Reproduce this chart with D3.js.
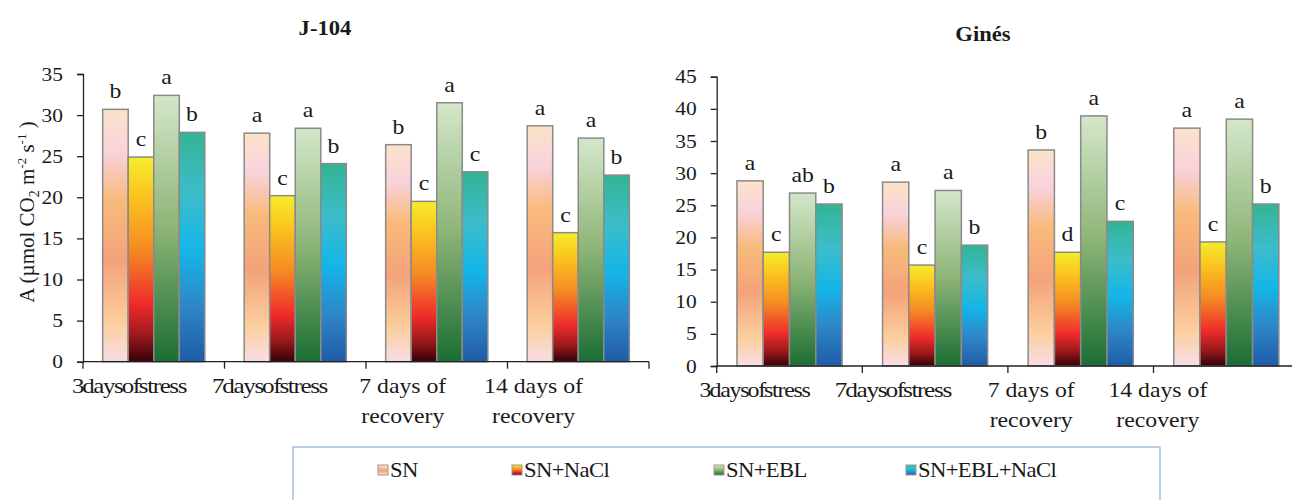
<!DOCTYPE html>
<html>
<head>
<meta charset="utf-8">
<script src="https://cdn.jsdelivr.net/npm/d3@7"></script>
<style>
  body { margin: 0; background: #fff; }
  text { font-family: "Liberation Serif", "Times New Roman", serif; fill: #1a1a1a; }
</style>
</head>
<body>
<script>
// data
const categories = ["3 days of stress", "7 days of stress", "7 days of recovery", "14 days of recovery"];
const labelLines = [["3 days of stress"], ["7 days of stress"], ["7 days of", "recovery"], ["14 days of", "recovery"]];
const series = ["SN", "SN+NaCl", "SN+EBL", "SN+EBL+NaCl"];

// values per category, in series order
const j104Values = [
  [30.7, 24.9, 32.4, 27.9],
  [27.8, 20.2, 28.4, 24.1],
  [26.4, 19.5, 31.5, 23.1],
  [28.7, 15.7, 27.2, 22.7]
];
const j104Letters = [
  ["b", "c", "a", "b"],
  ["a", "c", "a", "b"],
  ["b", "c", "a", "c"],
  ["a", "c", "a", "b"]
];
const ginesValues = [
  [28.8, 17.7, 26.9, 25.2],
  [28.6, 15.7, 27.3, 18.8],
  [33.6, 17.7, 38.9, 22.5],
  [37.0, 19.3, 38.4, 25.2]
];
const ginesLetters = [
  ["a", "c", "ab", "b"],
  ["a", "c", "a", "b"],
  ["b", "d", "a", "c"],
  ["a", "c", "a", "b"]
];
const j104Ticks = [0, 5, 10, 15, 20, 25, 30, 35];
const ginesTicks = [0, 5, 10, 15, 20, 25, 30, 35, 40, 45];

const width = 1292;
const height = 500;
const kx = 1.13; // the figure is a bit stretched sideways

const svg = d3.select("body").append("svg")
  .attr("width", width)
  .attr("height", height);

// gradients for the bars
const gradStops = [
  [[0, "#fbe3c9"], [0.17, "#f9d2dc"], [0.36, "#f8ba7a"], [0.6, "#f4a27b"], [0.85, "#fbcf9e"], [1, "#f9dde6"]],
  [[0, "#f6ec2b"], [0.2, "#fbc21f"], [0.45, "#f58b24"], [0.72, "#ee2a2b"], [0.87, "#9c1a1c"], [1, "#360008"]],
  [[0, "#d4e7ca"], [0.5, "#8db477"], [1, "#1a6e33"]],
  [[0, "#33b494"], [0.27, "#3cbdca"], [0.52, "#14b5e8"], [0.76, "#2e86c6"], [1, "#1f5ba7"]]
];
const defs = svg.append("defs");
gradStops.forEach((stops, i) => {
  const g = defs.append("linearGradient")
    .attr("id", "grad" + i)
    .attr("x1", 0).attr("y1", 0).attr("x2", 0).attr("y2", 1);
  stops.forEach(s => g.append("stop").attr("offset", s[0]).attr("stop-color", s[1]));
});

function stretch(sel, k) {
  sel.each(function () {
    const w = this.getComputedTextLength();
    d3.select(this).attr("textLength", w * k).attr("lengthAdjust", "spacingAndGlyphs");
  });
}

function drawChart(cfg) {
  const g = svg.append("g");

  const x0 = d3.scaleBand().domain(categories).range([cfg.left, cfg.right]).padding(0);
  const bw = x0.bandwidth();
  const x1 = d3.scaleBand().domain(series).range([bw * 0.139, bw * 0.861]).padding(0);
  const y = d3.scaleLinear().domain([0, cfg.max]).range([cfg.bottom, cfg.top]);

  // bars
  const groups = g.selectAll(".grp")
    .data(cfg.values)
    .enter().append("g")
    .attr("transform", (d, i) => `translate(${x0(categories[i])},0)`);

  groups.selectAll("rect")
    .data(d => d)
    .enter().append("rect")
    .attr("x", (d, i) => x1(series[i]))
    .attr("y", d => y(d))
    .attr("width", x1.bandwidth())
    .attr("height", d => y(0) - y(d))
    .attr("fill", (d, i) => `url(#grad${i})`)
    .attr("stroke", "#8a8a8a")
    .attr("stroke-width", 1.5);

  // letters
  groups.selectAll(".lt")
    .data((d, i) => d.map((v, j) => ({ v: v, t: cfg.letters[i][j] })))
    .enter().append("text")
    .attr("x", (d, j) => x1(series[j]) + x1.bandwidth() / 2)
    .attr("y", d => y(d.v) - 11)
    .attr("text-anchor", "middle")
    .attr("font-size", "21px")
    .text(d => d.t)
    .call(stretch, kx);

  // y axis
  const yAxis = d3.axisLeft(y).tickValues(cfg.ticks).tickSize(6).tickPadding(14);
  const ya = g.append("g")
    .attr("transform", `translate(${cfg.left},0)`)
    .call(yAxis);
  ya.select(".domain").attr("stroke", "#222").attr("stroke-width", 1.3);
  ya.selectAll(".tick line").attr("stroke", "#222").attr("stroke-width", 1.3);
  ya.selectAll(".tick text")
    .attr("font-size", "19px")
    .attr("font-family", "Liberation Serif, serif")
    .attr("fill", "#1a1a1a")
    .call(stretch, kx);

  // x axis: line plus ticks at band boundaries
  const xa = g.append("g");
  xa.append("line")
    .attr("x1", cfg.left).attr("x2", cfg.right)
    .attr("y1", cfg.bottom).attr("y2", cfg.bottom)
    .attr("stroke", "#222").attr("stroke-width", 1.3);
  const bounds = categories.map(c => x0(c)).concat([cfg.right]);
  xa.selectAll(".xt")
    .data(bounds)
    .enter().append("line")
    .attr("x1", d => d).attr("x2", d => d)
    .attr("y1", cfg.bottom).attr("y2", cfg.bottom + 7)
    .attr("stroke", "#222").attr("stroke-width", 1.3);

  // category labels
  labelLines.forEach((lines, i) => {
    const cx = x0(categories[i]) + bw * cfg.labelShift[i];
    lines.forEach((ln, k) => {
      const t = xa.append("text")
        .attr("x", cx)
        .attr("y", cfg.bottom + 31 + k * 30)
        .attr("text-anchor", "middle")
        .attr("font-size", "22px")
        .text(ln);
      if (lines.length === 1) {
        // squeezed labels, as in the original
        t.attr("word-spacing", "-5px")
          .attr("letter-spacing", "-1.2px")
          .attr("textLength", cfg.stressWidth[i])
          .attr("lengthAdjust", "spacingAndGlyphs");
      } else {
        t.attr("font-size", "21px").call(stretch, kx);
      }
    });
  });

  // title
  g.append("text")
    .attr("x", cfg.titleX).attr("y", cfg.titleY)
    .attr("text-anchor", "middle")
    .attr("font-size", cfg.titleSize)
    .attr("font-weight", "bold")
    .text(cfg.title)
    .call(stretch, kx);
}

drawChart({
  title: "J-104", titleX: 325, titleY: 35, titleSize: "20px",
  left: 83, right: 649, top: 74, bottom: 361.7, max: 35,
  ticks: j104Ticks, values: j104Values, letters: j104Letters,
  labelShift: [0.325, 0.318, 0.26, 0.184], stressWidth: [114, 115]
});

drawChart({
  title: "Ginés", titleX: 983, titleY: 41, titleSize: "20px",
  left: 716.7, right: 1299.1, top: 76.7, bottom: 366, max: 45,
  ticks: ginesTicks, values: ginesValues, letters: ginesLetters,
  labelShift: [0.26, 0.21, 0.16, 0.03], stressWidth: [110, 116]
});

// y axis title
const yt = svg.append("text")
  .attr("transform", "translate(34,212) rotate(-90)")
  .attr("text-anchor", "middle")
  .attr("font-size", "21px");
yt.append("tspan").text("A (µmol  CO");
yt.append("tspan").attr("font-size", "14px").attr("dy", 5).text("2");
yt.append("tspan").attr("dy", -5).text(" m");
yt.append("tspan").attr("font-size", "13px").attr("dy", -8).text("-2");
yt.append("tspan").attr("dy", 8).text("  s");
yt.append("tspan").attr("font-size", "13px").attr("dy", -8).text("-1");
yt.append("tspan").attr("dy", 8).text("  )");

// legend
svg.append("rect")
  .attr("x", 293).attr("y", 447)
  .attr("width", 867).attr("height", 70)
  .attr("fill", "#fff")
  .attr("stroke", "#95b3d7")
  .attr("stroke-width", 1.3);

const legendX = [378, 512, 714, 906];
const leg = svg.selectAll(".leg")
  .data(series)
  .enter().append("g")
  .attr("transform", (d, i) => `translate(${legendX[i]},470)`);
leg.append("rect")
  .attr("x", 0).attr("y", -5)
  .attr("width", 10).attr("height", 10)
  .attr("fill", (d, i) => `url(#grad${i})`)
  .attr("stroke", "#999").attr("stroke-width", 1);
leg.append("text")
  .attr("x", 12).attr("y", 7)
  .attr("font-size", "21px")
  .attr("letter-spacing", "-0.6px")
  .text(d => d)
  .call(stretch, 1.08);
</script>
</body>
</html>
